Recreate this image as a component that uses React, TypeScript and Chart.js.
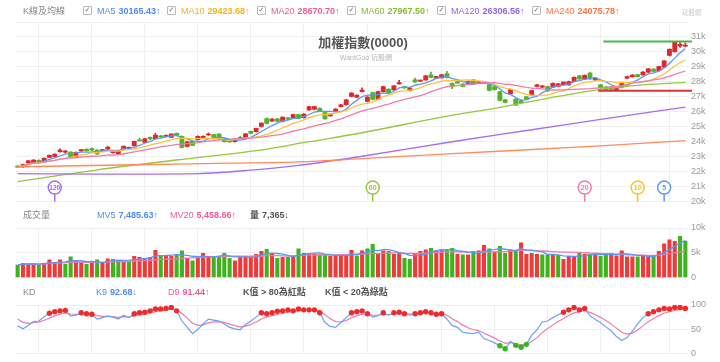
import React, { useEffect, useRef } from "react";
import { Chart, registerables } from "chart.js";

Chart.register(...registerables);

const FONT = "'Liberation Sans', Arial, 'Noto Sans CJK TC', sans-serif";
Chart.defaults.font.family = FONT;

// ---------------- DATA ----------------
const N = 127;
const days: string[] = Array.from({ length: N }, (_, i) => `D${i + 1}`);

const opens = [
  22350, 22310, 22580, 22600, 22750, 22690, 22960, 23000, 23330, 23300,
  23310, 23000, 23380, 23500, 23550, 23440, 23360, 23510, 23270, 23200,
  23510, 23560, 23730, 24130, 23960, 24290, 24200, 24380, 24360, 24290,
  24560, 24360, 23690, 24020, 24130, 24200, 24450, 24470, 24510, 24180,
  24130, 24000, 24290, 24290, 24690, 24670, 25020, 25550, 25380, 25530,
  25350, 25600, 25580, 25820, 25600, 26130, 26170, 26240, 25950, 25730,
  26040, 26350, 26470, 27020, 26980, 27350, 26690, 27290, 26850, 27350,
  27510, 27470, 27870, 27690, 27420, 28130, 28050, 28130, 28470, 28250,
  28270, 28550, 27900, 28020, 27850, 27870, 28130, 27930, 27950, 27800,
  27690, 27350, 26800, 27200, 26850, 26750, 27000, 27130, 27690, 27650,
  27690, 27650, 27700, 27820, 27800, 28020, 28400, 28180, 28580, 28130,
  27800, 27650, 27600, 27480, 27690, 28250, 28350, 28480, 28470, 28650,
  28850, 28750, 28980, 29760, 30020, 30400, 30380,
];
const closes = [
  22300, 22470, 22730, 22780, 22650, 22890, 23090, 23170, 23440, 23380,
  22980, 23290, 23470, 23400, 23430, 23190, 23470, 23650, 23400, 23380,
  23690, 23600, 24020, 24060, 24200, 24210, 24450, 24320, 24420, 24510,
  24420, 23620, 24000, 23760, 24360, 24360, 24510, 24200, 24180, 24000,
  23980, 24180, 24220, 24530, 24550, 24890, 25240, 25220, 25510, 25350,
  25640, 25510, 25820, 25560, 25850, 26350, 26350, 26070, 25530, 25850,
  26180, 26470, 26800, 27250, 27110, 27450, 26980, 26830, 27350, 27690,
  27260, 27730, 27960, 27600, 27580, 28000, 28080, 28400, 28300, 28350,
  28470, 28300, 27700, 27920, 27700, 28020, 27880, 28000, 28000, 27430,
  27480, 26760, 26630, 27470, 26450, 26600, 26850, 27420, 27800, 27730,
  27400, 27910, 27870, 27980, 28020, 28310, 28200, 28440, 28200, 28250,
  27600, 27480, 27500, 27530, 27950, 28350, 28460, 28350, 28650, 28870,
  28690, 29020, 29400, 30180, 30650, 30500, 30450,
];
const highs = [
  22400, 22500, 22760, 22810, 22790, 22920, 23120, 23200, 23520, 23430,
  23350, 23320, 23500, 23540, 23590, 23470, 23500, 23690, 23430, 23410,
  23720, 23650, 24050, 24230, 24230, 24320, 24560, 24420, 24460, 24540,
  24600, 24400, 24030, 24050, 24390, 24390, 24600, 24500, 24540, 24210,
  24160, 24210, 24360, 24560, 24720, 24920, 25270, 25590, 25540, 25560,
  25670, 25630, 25850, 25850, 25880, 26380, 26380, 26270, 25980, 25880,
  26210, 26500, 26830, 27280, 27140, 27600, 27010, 27320, 27380, 27720,
  27540, 27760, 28100, 27720, 27610, 28250, 28120, 28430, 28650, 28380,
  28500, 28700, 27930, 28050, 27880, 28050, 28160, 28040, 28040, 27830,
  27720, 27380, 26830, 27500, 26880, 26780, 27030, 27450, 27830, 27760,
  27720, 27940, 27900, 28010, 28050, 28340, 28430, 28470, 28650, 28280,
  27830, 27680, 27630, 27650, 27980, 28380, 28490, 28510, 28680, 28900,
  28880, 29050, 29430, 30210, 30700, 30680, 30600,
];
const lows = [
  22260, 22280, 22550, 22580, 22620, 22660, 22930, 22980, 23300, 23260,
  22950, 22970, 23350, 23370, 23400, 23150, 23330, 23490, 23240, 23170,
  23480, 23530, 23700, 24030, 23930, 24120, 24180, 24290, 24330, 24270,
  24390, 23590, 23660, 23730, 24100, 24180, 24420, 24170, 24150, 23970,
  23950, 23970, 24190, 24260, 24520, 24640, 24990, 25190, 25350, 25320,
  25320, 25480, 25550, 25530, 25570, 26100, 26140, 26040, 25500, 25700,
  26010, 26320, 26440, 26990, 26950, 27320, 26660, 26800, 26820, 27320,
  27230, 27440, 27840, 27570, 27390, 27970, 28020, 28100, 28270, 28220,
  28240, 28270, 27550, 27890, 27670, 27840, 27850, 27900, 27920, 27400,
  27450, 26730, 26600, 27170, 26420, 26570, 26820, 27100, 27660, 27620,
  27370, 27620, 27670, 27790, 27770, 27990, 28170, 28150, 28170, 28100,
  27570, 27450, 27420, 27400, 27660, 28220, 28320, 28320, 28440, 28620,
  28660, 28720, 28950, 29730, 29990, 30300, 30330,
];
const volumes = [
  2500, 2900, 2800, 2900, 2500, 2900, 3600, 3100, 3600, 2700,
  4200, 3400, 3100, 2700, 2900, 3600, 3100, 3800, 3700, 3300,
  3400, 3400, 4300, 4100, 3900, 4100, 5500, 4500, 4300, 4300,
  4500, 5400, 3900, 3400, 3900, 4900, 4300, 4300, 4300, 4900,
  3900, 3400, 4300, 4300, 4300, 4700, 5300, 5700, 4700, 3900,
  4100, 4100, 4400, 5800, 4900, 4900, 4700, 4600, 4600, 4300,
  4500, 4500, 4500, 5500, 4400, 5400, 5800, 6700, 4900, 5400,
  5300, 4700, 4900, 3900, 3700, 4900, 5300, 5600, 5900, 5400,
  5600, 5600, 5900, 4700, 4600, 4600, 5300, 5400, 6500, 5800,
  5100, 6300, 4900, 5600, 5400, 7000, 4700, 4900, 4700, 4600,
  4600, 4500, 4500, 3700, 4300, 4300, 4900, 4700, 4700, 4700,
  4300, 4900, 4900, 4400, 5400, 4200, 4200, 4200, 4300, 4300,
  4500, 5300, 6800, 7600, 7300, 8300, 7365,
];
const kValues = [
  57, 51, 58, 66, 67, 76, 83, 86, 88, 89,
  77, 79, 84, 82, 81, 71, 74, 77, 75, 71,
  79, 74, 82, 84, 85, 88, 92, 92, 93, 95,
  88, 67, 54, 41, 50, 61, 71, 69, 67, 61,
  54, 51, 49, 60, 67, 75, 84, 82, 84, 87,
  88, 90, 88, 92, 90, 90, 90, 84, 64, 56,
  54, 64, 74, 84, 86, 88, 82, 75, 78, 84,
  79, 84, 85, 82, 79, 82, 84, 86, 84, 81,
  82, 71, 58, 54, 44, 42, 41, 44, 31, 27,
  22, 16, 10, 25, 17, 13, 19, 38, 49, 65,
  67, 74, 80, 85, 90, 95, 90, 93, 78, 70,
  64, 55, 47, 35, 27, 33, 46, 61, 74, 82,
  86, 90, 93, 92, 95, 95, 92.68,
];
const dValues = [
  71, 64.3, 62.2, 63.5, 64.7, 68.5, 73.3, 77.6, 81, 83.7,
  81.5, 80.7, 81.8, 81.9, 81.6, 78.1, 76.7, 76.8, 76.2, 74.5,
  76, 75.3, 77.6, 79.7, 81.5, 83.7, 86.4, 88.3, 89.9, 91.6,
  90.4, 82.6, 73.1, 62.4, 58.2, 59.2, 63.1, 65.1, 65.7, 64.1,
  60.8, 57.5, 54.7, 56.4, 60, 65, 71.3, 74.9, 77.9, 80.9,
  83.3, 85.5, 86.3, 88.2, 88.8, 89.2, 89.5, 87.7, 79.8, 71.8,
  65.9, 65.3, 68.2, 73.5, 77.7, 81.1, 81.4, 79.3, 78.9, 80.6,
  80.1, 81.4, 82.6, 82.4, 81.3, 81.5, 82.3, 83.6, 83.7, 82.8,
  82.5, 78.7, 71.8, 65.8, 58.6, 53.1, 49, 47.4, 41.9, 36.9,
  31.9, 26.6, 21.1, 22.4, 20.6, 18.1, 18.4, 24.9, 32.9, 43.6,
  51.4, 58.9, 65.9, 72.3, 78.2, 83.8, 85.9, 88.3, 84.9, 79.9,
  74.6, 68.1, 61.1, 52.4, 43.9, 40.3, 42.2, 48.5, 57, 65.3,
  72.2, 78.1, 83.1, 86.1, 89.1, 91.1, 91.44,
];

// long moving averages at sample days
const ma60Days = [0, 15, 30, 45, 55, 65, 80, 91, 100, 110, 118, 126];
const ma60Vals = [21330, 22120, 22780, 23400, 24000, 24600, 25650, 26300, 26900, 27500, 27800, 27970];
const ma120Days = [0, 15, 34, 44, 53, 65, 82, 97, 110, 126];
const ma120Vals = [21870, 21830, 21870, 22100, 22420, 23030, 24000, 24800, 25500, 26310];
const ma240Days = [0, 25, 40, 53, 65, 82, 110, 126];
const ma240Vals = [22330, 22480, 22570, 22660, 22870, 23200, 23730, 24080];

const priceTicks = [20000, 21000, 22000, 23000, 24000, 25000, 26000, 27000, 28000, 29000, 30000, 31000, 32000];
const priceTickLabels = ["20k", "21k", "22k", "23k", "24k", "25k", "26k", "27k", "28k", "29k", "30k", "31k", ""];
const volTicks = [0, 5000, 10000];
const volTickLabels = ["0", "5k", "10k"];
const kdTicks = [0, 50, 100];
const kdTickLabels = ["0", "50", "100"];
const gridDays = [4, 14, 24, 34, 44, 54, 66, 80, 90, 100, 110, 123];

const markerPeriods = [120, 60, 20, 10, 5];
const rangeHigh = 30700;
const rangeLow = 27400;
const rangeHighFrom = 111;
const rangeLowFrom = 110;

const maNames = ["MA5", "MA10", "MA20", "MA60", "MA120", "MA240"];
const maLegendValues = ["30165.43↑", "29423.68↑", "28670.70↑", "27967.50↑", "26306.56↑", "24075.78↑"];

// ---------------- STYLE ----------------
const RED = "#e0262c";
const GREEN = "#4fb526";
const VRED = "#f03a3a";
const VGREEN = "#3db31c";
const GRID = "#efefef";
const TICK = "#9a9a9a";
const C5 = "#5b96f5";
const C10 = "#fbc33c";
const C20 = "#f07aac";
const C60 = "#96c83a";
const C120 = "#a46ef0";
const C240 = "#ff8a5c";
const T5 = "#4f8bf3";
const T10 = "#f5b11c";
const T20 = "#ea5c98";
const T60 = "#86bd2e";
const T120 = "#9460ee";
const T240 = "#ff7440";
const markerColors = [C120, C60, C20, "#f9c232", C5];

function movingAvg(src: number[], n: number) {
  return src.map((_, i) => {
    const s = Math.max(0, i - n + 1);
    let sum = 0;
    for (let j = s; j <= i; j++) sum += src[j];
    return sum / (i - s + 1);
  });
}
function sparse(idx: number[], vals: number[]) {
  const out: (number | null)[] = new Array(N).fill(null);
  idx.forEach((d, k) => {
    out[d] = vals[k];
  });
  return out;
}

function xScale() {
  return {
    type: "category",
    offset: true,
    grid: { color: GRID, drawTicks: false, offset: false },
    border: { display: false },
    ticks: { display: false },
    afterBuildTicks: (s: any) => {
      s.ticks = gridDays.map((v) => ({ value: v }));
    },
  };
}
function yScale(min: number, max: number, ticks: number[], labels: string[]) {
  return {
    type: "linear",
    position: "right",
    min,
    max,
    afterBuildTicks: (s: any) => {
      s.ticks = ticks.map((v) => ({ value: v }));
    },
    ticks: {
      color: TICK,
      font: { size: 9 },
      padding: 3,
      callback: (_v: any, i: number) => labels[i],
    },
    grid: { color: GRID, drawTicks: false },
    border: { display: false },
    afterFit: (s: any) => {
      s.width = 32;
    },
  };
}
function maLine(label: string, data: (number | null)[], color: string, sparseLine: boolean) {
  return {
    type: "line",
    label,
    data,
    borderColor: color,
    borderWidth: 1.3,
    pointRadius: 0,
    spanGaps: true,
    tension: sparseLine ? 0.4 : 0,
    cubicInterpolationMode: sparseLine ? "monotone" : "default",
    order: 0,
  };
}

const markerPlugin = {
  id: "maMarkers",
  afterDatasetsDraw(chart: any) {
    const { ctx, chartArea, scales } = chart;
    const x = scales.x;
    ctx.save();
    markerPeriods.forEach((p, k) => {
      const cx = x.getPixelForValue(N - p);
      const cy = chartArea.bottom - 14;
      const r = 6.5;
      ctx.strokeStyle = markerColors[k];
      ctx.lineWidth = 1.5;
      ctx.beginPath();
      ctx.moveTo(cx, cy + r);
      ctx.lineTo(cx, chartArea.bottom);
      ctx.stroke();
      ctx.beginPath();
      ctx.arc(cx, cy, r, 0, Math.PI * 2);
      ctx.fillStyle = "#fff";
      ctx.fill();
      ctx.stroke();
      ctx.fillStyle = markerColors[k];
      ctx.font = `bold ${p >= 100 ? 6.5 : 7}px ${FONT}`;
      ctx.textAlign = "center";
      ctx.textBaseline = "middle";
      ctx.fillText(String(p), cx, cy + 0.5);
    });
    const y = scales.y;
    const drawRange = (val: number, from: number, color: string) => {
      const yy = y.getPixelForValue(val);
      ctx.strokeStyle = color;
      ctx.lineWidth = 2;
      ctx.beginPath();
      ctx.moveTo(x.getPixelForValue(from) - 2.5, yy);
      ctx.lineTo(chartArea.right + 4, yy);
      ctx.stroke();
    };
    drawRange(rangeHigh, rangeHighFrom, "#47b84a");
    drawRange(rangeLow, rangeLowFrom, "#e0303a");
    ctx.restore();
  },
};

const Box = () => (
  <span
    style={{
      display: "inline-block",
      boxSizing: "border-box",
      width: 9,
      height: 9,
      border: "1px solid #b8b8b8",
      borderRadius: 1,
      fontSize: 7,
      lineHeight: "7px",
      color: "#666",
      textAlign: "center",
      fontFamily: "'DejaVu Sans', sans-serif",
      marginRight: 5,
    }}
  >
    ✓
  </span>
);

function Group(props: { x: number; y: number; name: string; value: string; color: string; box?: boolean; bold?: boolean }) {
  return (
    <div
      style={{
        position: "absolute",
        left: props.x,
        top: props.y - 6,
        height: 12,
        display: "flex",
        alignItems: "center",
        fontSize: 9,
        whiteSpace: "nowrap",
        lineHeight: "12px",
      }}
    >
      {props.box ? <Box /> : null}
      <span style={{ color: props.color, fontWeight: props.bold ? 700 : 400, marginRight: 3 }}>{props.name}</span>
      <span style={{ color: props.color, fontWeight: 700 }}>{props.value}</span>
    </div>
  );
}

export default function App() {
  const priceRef = useRef<HTMLCanvasElement>(null);
  const volRef = useRef<HTMLCanvasElement>(null);
  const kdRef = useRef<HTMLCanvasElement>(null);

  useEffect(() => {
    const candleColors = closes.map((c, i) => (c >= opens[i] ? RED : GREEN));
    const volColors = closes.map((c, i) =>
      (i === 0 ? c >= opens[0] : c >= closes[i - 1]) ? VRED : VGREEN
    );

    const common = {
      responsive: false,
      animation: false as const,
      events: [] as any[],
      plugins: { legend: { display: false }, tooltip: { enabled: false } },
    };

    const price = new Chart(priceRef.current!, {
      type: "bar",
      data: {
        labels: days,
        datasets: [
          maLine("MA240", sparse(ma240Days, ma240Vals), C240, true),
          maLine("MA120", sparse(ma120Days, ma120Vals), C120, true),
          maLine("MA60", sparse(ma60Days, ma60Vals), C60, true),
          maLine("MA20", movingAvg(closes, 20), C20, false),
          maLine("MA10", movingAvg(closes, 10), C10, false),
          maLine("MA5", movingAvg(closes, 5), C5, false),
          {
            type: "bar",
            label: "body",
            data: opens.map((o, i) => [o, closes[i]]),
            backgroundColor: candleColors,
            barThickness: 4.2,
            grouped: false,
            minBarLength: 1,
            order: 2,
          },
          {
            type: "bar",
            label: "wick",
            data: lows.map((l, i) => [l, highs[i]]),
            backgroundColor: candleColors,
            barThickness: 1,
            grouped: false,
            order: 3,
          },
        ] as any,
      },
      options: {
        ...common,
        layout: { padding: { left: 15, right: 0, top: 22, bottom: 8 } },
        scales: {
          x: xScale(),
          y: yScale(20000, 32000, priceTicks, priceTickLabels),
        } as any,
      },
      plugins: [markerPlugin],
    } as any);

    const vol = new Chart(volRef.current!, {
      type: "bar",
      data: {
        labels: days,
        datasets: [
          maLine("MV5", movingAvg(volumes, 5), C5, false),
          maLine("MV20", movingAvg(volumes, 20), C20, false),
          {
            type: "bar",
            label: "量",
            data: volumes,
            backgroundColor: volColors,
            barThickness: 3.4,
            order: 2,
          },
        ] as any,
      },
      options: {
        ...common,
        layout: { padding: { left: 15, right: 0, top: 12, bottom: 8 } },
        scales: {
          x: xScale(),
          y: yScale(0, 10000, volTicks, volTickLabels),
        } as any,
      },
    } as any);

    const kd = new Chart(kdRef.current!, {
      type: "line",
      data: {
        labels: days,
        datasets: [
          {
            label: "K9",
            data: kValues,
            borderColor: "#6aa2f8",
            borderWidth: 1.2,
            pointRadius: (c: any) => {
              const v = kValues[c.dataIndex];
              return v > 80 || v < 20 ? 2.7 : 0;
            },
            pointBackgroundColor: (c: any) => (kValues[c.dataIndex] > 80 ? "#f02a2a" : "#30b81c"),
            pointBorderWidth: 0,
            order: 0,
          },
          {
            label: "D9",
            data: dValues,
            borderColor: "#ee7cb0",
            borderWidth: 1.2,
            pointRadius: 0,
            order: 1,
          },
        ] as any,
      },
      options: {
        ...common,
        layout: { padding: { left: 15, right: 0, top: 13, bottom: 6 } },
        scales: {
          x: { ...xScale(), offset: true },
          y: yScale(0, 100, kdTicks, kdTickLabels),
        } as any,
      },
    } as any);

    return () => {
      price.destroy();
      vol.destroy();
      kd.destroy();
    };
  }, []);

  const txt = (x: number, y: number, color: string, text: string, bold = false, size = 9) => (
    <span
      key={`${x}-${y}-${text}`}
      style={{
        position: "absolute",
        left: x,
        top: y - 6,
        lineHeight: "12px",
        fontSize: size,
        color,
        fontWeight: bold ? 700 : 400,
        whiteSpace: "nowrap",
      }}
    >
      {text}
    </span>
  );

  const maBoxX = [83, 167, 257, 347, 437, 532];
  const maNameColors = [T5, T10, T20, T60, T120, T240];

  return (
    <div
      style={{
        position: "absolute",
        left: 0,
        top: 0,
        width: 720,
        height: 362,
        background: "#fff",
        overflow: "hidden",
        fontFamily: FONT,
      }}
    >
      <canvas ref={priceRef} width={720} height={210} style={{ position: "absolute", left: 0, top: 0, display: "block" }} />
      <canvas ref={volRef} width={720} height={70} style={{ position: "absolute", left: 0, top: 216, display: "block" }} />
      <canvas ref={kdRef} width={720} height={70} style={{ position: "absolute", left: 0, top: 292, display: "block" }} />

      {/* title */}
      <div style={{ position: "absolute", left: 263, top: 35, width: 200, textAlign: "center", fontSize: 13, fontWeight: 700, color: "#555", lineHeight: "16px" }}>
        加權指數(0000)
      </div>
      <div style={{ position: "absolute", left: 266, top: 53, width: 200, textAlign: "center", fontSize: 7, color: "#b5b5b5", lineHeight: "9px" }}>
        WantGoo 玩股網
      </div>
      {txt(682, 13, "#c8c8c8", "玩股網", false, 6.5)}

      {/* top legend */}
      {txt(23, 10.5, "#888", "K線及均線")}
      {maNames.map((n, k) => (
        <Group key={n} x={maBoxX[k]} y={10.5} name={n} value={maLegendValues[k]} color={maNameColors[k]} box />
      ))}

      {/* volume legend */}
      {txt(23, 215, "#888", "成交量")}
      <Group x={97} y={215} name="MV5" value="7,485.63↑" color={T5} />
      <Group x={170} y={215} name="MV20" value="5,458.66↑" color={T20} />
      <Group x={250} y={215} name="量" value="7,365↓" color="#555" bold />

      {/* KD legend */}
      {txt(23, 292, "#888", "KD")}
      <Group x={96} y={292} name="K9" value="92.68↓" color={T5} />
      <Group x={168} y={292} name="D9" value="91.44↑" color={T20} />
      {txt(243, 292, "#555", "K值 > 80為紅點", true)}
      {txt(325, 292, "#555", "K值 < 20為綠點", true)}
    </div>
  );
}
